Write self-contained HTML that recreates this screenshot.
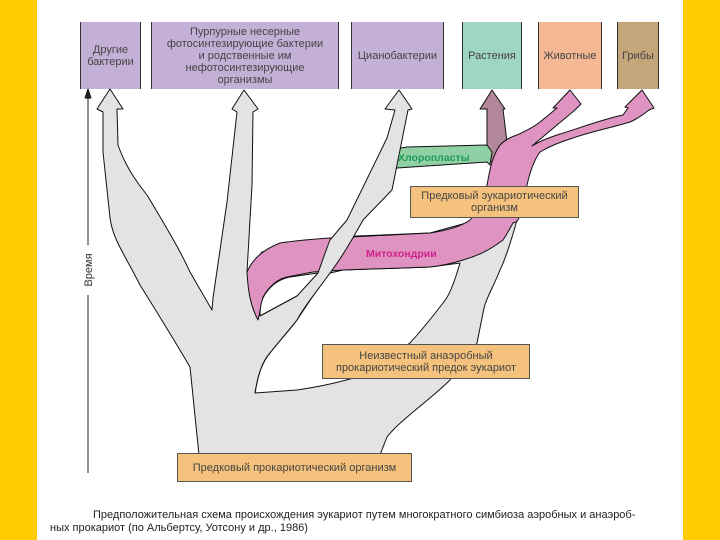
<!DOCTYPE html>
<html><head><meta charset="utf-8"><style>
body{margin:0;width:720px;height:540px;overflow:hidden;background:#fff;font-family:"Liberation Sans",sans-serif;}
.y{position:absolute;top:0;height:540px;background:#fecb00;}
.b{position:absolute;top:22px;height:67px;display:flex;align-items:center;justify-content:center;text-align:center;font-size:11px;line-height:12px;color:#444;border-left:1px solid #333;border-right:1px solid #333;box-sizing:border-box;}
.o{position:absolute;background:#f5c27d;border:1px solid #555;box-sizing:border-box;display:flex;align-items:center;justify-content:center;text-align:center;font-size:11px;line-height:12px;color:#444;}
.cap{position:absolute;font-size:11px;color:#222;white-space:nowrap;}
</style></head><body>
<div class="y" style="left:0;width:37px"></div>
<div class="y" style="left:683px;width:37px"></div>

<div class="b" style="left:80px;width:61px;background:#c4b0d6">Другие<br>бактерии</div>
<div class="b" style="left:151px;width:188px;background:#c4b0d6">Пурпурные несерные<br>фотосинтезирующие бактерии<br>и родственные им<br>нефотосинтезирующие<br>организмы</div>
<div class="b" style="left:351px;width:93px;background:#c4b0d6">Цианобактерии</div>
<div class="b" style="left:462px;width:60px;background:#9fd6c2">Растения</div>
<div class="b" style="left:538px;width:64px;background:#f4b994">Животные</div>
<div class="b" style="left:617px;width:42px;background:#c4a67a">Грибы</div>

<svg width="720" height="540" style="position:absolute;left:0;top:0">
<g stroke="#111" stroke-width="1" stroke-linejoin="round">
<line x1="88" y1="96" x2="88" y2="245" stroke="#223" />
<line x1="88" y1="295" x2="88" y2="473" stroke="#223"/>
<polygon points="88,89 85,98 91,98" fill="#223"/>
<path fill="#e3e3e5" d="M199,455 L190,367 C180,350 165,325 140,285 C125,255 113,240 110,218 L103,152 L103,112 L97,109 L110,89 L123,109 L117,109 L118,145 C125,165 135,180 147,195 C165,225 180,250 190,272 L212,310 L213,298 L227,202 L237,112 L232,109 L244,90 L258,109 L253,112 L252,185 L247,272 L262,252 L330,240 L356,236 L430,233 L470,222 L478,215 L517,215 L517,220 C510,245 505,260 500,270 C492,290 485,300 483,313 L477,343 L450,380 C430,400 400,420 387,437 L380,455 Z"/>
<path fill="#fff" d="M255,393 C258,375 262,362 270,353 C280,340 290,330 297,320 C310,300 320,285 330,273 L343,270 L430,267 L460,263 C455,280 450,295 443,303 C430,320 420,332 410,343 L357,377 C330,385 310,388 297,390 Z"/>
<path fill="#b3879a" d="M487,160 L487,109 L480,109 L492,90 L505,109 L503,109 L507,142 L500,165 Z"/>
<path fill="#de93c0" d="M258,320 C250,305 248,290 247,272 C252,260 262,250 280,243 C300,240 315,239 330,238 L430,233 C450,230 462,226 470,220 C478,210 484,198 487,185 C489,175 490,168 492,162 C495,152 498,148 500,145 C505,140 510,137 517,135 C528,130 535,126 540,122 L557,108 L553,108 L570,90 L581,104 L575,110 L557,125 L532,146 C540,141 548,138 557,135 C580,128 600,120 623,115 L628,108 L625,107 L642,90 L654,108 L649,110 C640,117 635,120 630,122 C610,128 590,132 573,138 C560,142 550,146 540,152 C534,160 530,172 527,185 C524,198 522,208 520,215 C518,222 516,222 513,223 C508,232 505,237 503,240 C490,250 478,256 463,260 C450,264 440,266 430,267 L343,270 L313,272 L287,277 C278,279 270,285 263,297 Z"/>
<path fill="#fff" d="M260,316 C260,305 262,298 266,293 C272,284 280,279 290,277 L318,273 C312,282 305,290 297,296 Z"/>
<path fill="#8fd0a5" d="M378,185 C382,172 385,160 390,152 C395,149 400,148 407,147 L487,145 L492,152 L490,165 L487,162 L397,168 C390,172 385,178 378,185 Z"/>
<path fill="#e3e3e5" stroke="none" d="M260,316 L297,296 L318,273 C322,262 326,250 330,240 L347,220 L387,138 L395,110 L385,109 L399,90 L412,109 L408,110 L392,190 L363,220 C352,240 340,260 330,273 C318,290 305,305 297,320 C285,335 276,345 270,353 L258,340 Z"/>
<path fill="none" d="M260,316 L297,296 L318,273 C322,262 326,250 330,240 L347,220 L387,138 L395,110 L385,109 L399,90 L412,109 L408,110 L392,190 L363,220 C352,240 340,260 330,273 C318,290 305,305 297,320 C285,335 276,345 270,353 C262,362 258,375 255,393"/>
</g>
<rect x="80" y="248" width="16" height="46" fill="#fff"/>
<text transform="translate(92,270) rotate(-90)" text-anchor="middle" font-family="Liberation Sans" font-size="11" fill="#333">Время</text>
<text x="398" y="161" font-family="Liberation Sans" font-size="10.5" font-weight="bold" fill="#1f9a55">Хлоропласты</text>
<text x="366" y="257" font-family="Liberation Sans" font-size="10.5" font-weight="bold" fill="#d0228c">Митохондрии</text>
</svg>

<div class="o" style="left:410px;top:186px;width:169px;height:32px">Предковый эукариотический<br>организм</div>
<div class="o" style="left:322px;top:344px;width:208px;height:35px">Неизвестный анаэробный<br>прокариотический предок эукариот</div>
<div class="o" style="left:177px;top:453px;width:235px;height:29px">Предковый прокариотический организм</div>

<div class="cap" style="left:93px;top:509px">Предположительная схема происхождения эукариот путем многократного симбиоза аэробных и анаэроб-</div>
<div class="cap" style="left:50px;top:522px">ных прокариот (по Альбертсу, Уотсону и др., 1986)</div>
</body></html>
